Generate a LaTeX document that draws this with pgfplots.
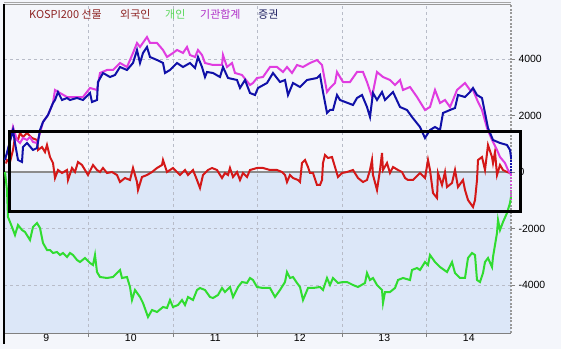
\documentclass[border=0pt]{standalone}
\usepackage{pgfplots}
\pgfplotsset{compat=1.18}
\usepackage{fontspec}
\setmainfont{Liberation Sans}
\newfontfamily\kr{Noto Sans CJK KR}
\definecolor{pagebg}{HTML}{F4F6FB}
\definecolor{lowbg}{HTML}{DCE7F8}
\definecolor{gridc}{HTML}{B8BCC8}
\definecolor{cred}{HTML}{D41818}
\definecolor{cblue}{HTML}{1010A8}
\definecolor{cmag}{HTML}{E03CE0}
\definecolor{cgreen}{HTML}{30DC30}
\definecolor{lgdred}{HTML}{8E2424}
\definecolor{lgdgreen}{HTML}{5CD85C}
\definecolor{lgdmag}{HTML}{B030C8}
\definecolor{lgdblue}{HTML}{1E2060}
\begin{document}
\begin{tikzpicture}
\useasboundingbox (0,0) rectangle (561bp,349bp);
\fill[pagebg] (0,0) rectangle (561bp,349bp);
\begin{axis}[
  at={(4bp,16bp)}, anchor=south west,
  scale only axis, width=507bp, height=329bp,
  xmin=4, xmax=511, ymin=-5699, ymax=5947,
  axis line style={draw=none},
  clip=false,
  tick align=outside,
  major tick length=4bp,
  tick style={gray, line width=1bp},
  ytick={-4000,-2000,0,2000,4000},
  ytick pos=right, yticklabel pos=right,
  yticklabel style={anchor=west, xshift=0bp},
  xtick={88.5,173,257.5,342,426.5},
  xticklabels={},
  xtick pos=bottom,
  extra x ticks={46.25,130.75,215.25,299.75,384.25,468.75},
  extra x tick labels={9,10,11,12,13,14},
  extra x tick style={major tick length=0pt, grid=none},
  xticklabel style={yshift=2bp},
  ticklabel style={font=\fontsize{10.5}{12}\selectfont},
  /pgf/number format/assume math mode=true,
  /pgf/number format/1000 sep={},
  grid=major,
  major grid style={gridc, dash pattern=on 3bp off 3bp, line width=0.6bp},
]
% lower background
\fill[lowbg] (axis cs:4,0) rectangle (axis cs:511,-5699);
\draw[gridc, dash pattern=on 3bp off 3bp, line width=0.6bp] (axis cs:88.5,-5699) -- (axis cs:88.5,5947);
\draw[gridc, dash pattern=on 3bp off 3bp, line width=0.6bp] (axis cs:173,-5699) -- (axis cs:173,5947);
\draw[gridc, dash pattern=on 3bp off 3bp, line width=0.6bp] (axis cs:257.5,-5699) -- (axis cs:257.5,5947);
\draw[gridc, dash pattern=on 3bp off 3bp, line width=0.6bp] (axis cs:342,-5699) -- (axis cs:342,5947);
\draw[gridc, dash pattern=on 3bp off 3bp, line width=0.6bp] (axis cs:426.5,-5699) -- (axis cs:426.5,5947);
\foreach \yy in {-4000,-2000,2000,4000} {
  \edef\tmp{\noexpand\draw[gridc, dash pattern=on 3bp off 3bp, line width=0.6bp] (axis cs:4,\yy) -- (axis cs:511,\yy);}\tmp
}
% zero line
\draw[gray!90, line width=1.5bp] (axis cs:4,0) -- (axis cs:511,0);
% frame
\draw[gray, line width=0.8bp] (axis cs:4,-5699) -- (axis cs:511,-5699);
\draw[gray!80, line width=0.8bp] (axis cs:4,5947) -- (axis cs:511,5947);
\draw[gray!70, line width=0.6bp] (axis cs:4,5947+60) -- (axis cs:511,5947+60);
\draw[gray!80, line width=2bp, dash pattern=on 2bp off 1.5bp] (axis cs:511,-5699) -- (axis cs:511,5947);
\draw[black, line width=1.2bp] (axis cs:4,5947) -- (axis cs:4,-6100);

% 개인 (green)
\addplot[cgreen, line width=2bp, no markers] coordinates {
(5,0)(7,-637)(8,-1593)(12,-1947)(15,-2230)(18,-1876)(22,-2053)(25,-2124)(30,-2407)(33,-1947)(37,-1805)(40,-1982)(43,-2513)(47,-2761)(50,-2761)(53,-2867)(57,-2832)(60,-2938)(63,-2867)(67,-3009)(70,-2867)(73,-2938)(77,-3115)(80,-3186)(85,-3044)(90,-3221)(93,-3292)(95,-2938)(97,-3540)(100,-3717)(107,-3752)(113,-3717)(117,-3575)(120,-3469)(122,-3752)(127,-3717)(130,-4071)(132,-4531)(135,-4177)(140,-4425)(143,-4637)(148,-5133)(152,-4885)(157,-4956)(163,-4779)(167,-4814)(170,-4531)(173,-4779)(178,-4708)(182,-4531)(185,-4708)(188,-4425)(193,-4531)(197,-4177)(200,-4106)(205,-4177)(210,-4425)(213,-4460)(218,-4354)(222,-4106)(225,-4248)(230,-4071)(233,-4425)(238,-4071)(242,-3894)(247,-3929)(250,-3752)(253,-3823)(257,-4071)(263,-4106)(270,-4106)(275,-4425)(280,-4177)(285,-3894)(287,-3540)(290,-3752)(293,-3717)(297,-3929)(300,-4071)(303,-4531)(308,-4106)(313,-4106)(320,-4071)(323,-4177)(327,-3752)(330,-4000)(333,-3752)(338,-3929)(343,-3894)(347,-3894)(353,-4000)(358,-4071)(365,-3929)(367,-3575)(370,-3823)(373,-3752)(377,-4000)(382,-4177)(383,-4637)(385,-4248)(390,-4248)(395,-4106)(398,-3823)(403,-3752)(410,-3823)(412,-3469)(417,-3398)(420,-3469)(425,-3186)(428,-3292)(430,-2938)(435,-3186)(440,-3363)(447,-3540)(452,-3186)(455,-3575)(460,-3752)(465,-3752)(468,-3044)(472,-2867)(475,-2938)(477,-3823)(480,-3894)(483,-3575)(485,-3186)(488,-3044)(492,-3363)(493,-3009)(497,-2159)(498,-1699)(500,-2053)(503,-1770)(507,-1451)(510,-1097)(511,-885)
};
% 외국인 (red)
\addplot[cred, line width=2bp, no markers] coordinates {
(6,300)(7,425)(10,354)(13,779)(15,1239)(18,1133)(20,1381)(23,1239)(27,1381)(32,1204)(37,1133)(38,779)(42,885)(45,708)(47,956)(50,531)(53,319)(55,-212)(58,71)(62,-35)(67,71)(68,-283)(72,142)(75,0)(78,354)(82,248)(85,71)(88,-106)(93,248)(97,71)(100,0)(103,142)(107,-35)(112,0)(117,-106)(120,-354)(125,-212)(130,-283)(133,142)(137,-354)(138,-637)(142,-177)(147,-106)(152,0)(157,142)(162,248)(163,425)(167,0)(170,71)(173,142)(177,0)(180,-106)(185,71)(188,-106)(193,71)(197,-283)(200,-566)(203,-106)(208,71)(212,142)(217,71)(222,-212)(225,-35)(228,-106)(230,142)(233,-177)(237,0)(240,-283)(243,-35)(247,-177)(250,71)(257,142)(263,142)(270,71)(277,71)(282,0)(285,-106)(287,-354)(290,-106)(293,-212)(298,-283)(300,-354)(302,319)(305,425)(308,177)(310,-35)(313,-35)(317,-460)(320,-460)(322,-283)(323,319)(325,602)(328,496)(332,531)(335,177)(338,-177)(342,-35)(347,0)(353,71)(358,-212)(363,-354)(367,-283)(370,71)(372,425)(373,-106)(377,-637)(380,71)(382,673)(383,71)(387,319)(390,-35)(393,177)(398,71)(402,0)(405,-212)(408,-283)(413,-283)(420,-35)(425,-212)(428,425)(430,71)(433,-743)(437,-920)(438,-35)(442,-460)(445,0)(447,-531)(452,-389)(455,71)(458,-531)(463,-283)(465,-637)(468,-991)(473,-1239)(475,-991)(477,-283)(478,425)(482,531)(485,71)(488,956)(492,531)(493,319)(495,708)(497,-106)(500,248)(503,71)(507,0)(510,-35)
};
% 기관합계 (magenta)
\addplot[cmag, line width=2bp, no markers] coordinates {
(7,600)(10,1100)(13,1593)(17,1133)(20,1027)(23,1204)(27,1133)(30,1239)(33,1062)(37,1027)(40,1381)(43,1770)(48,2018)(53,2443)(55,2903)(60,2797)(67,2655)(77,2655)(83,2655)(90,2974)(97,2903)(100,3505)(107,3611)(113,3611)(120,3859)(127,3717)(133,4213)(137,4567)(140,4425)(147,4779)(150,4567)(157,4567)(163,4319)(167,4071)(173,4213)(177,4319)(183,4213)(187,4425)(190,4142)(195,4071)(198,4319)(202,4142)(205,3859)(213,3788)(222,3788)(223,4142)(227,3717)(232,3859)(235,3505)(242,3434)(250,3080)(253,3151)(257,3328)(263,3363)(270,3717)(277,3717)(283,3540)(287,3717)(292,3505)(297,3788)(303,3717)(310,3859)(317,3965)(322,3788)(327,2832)(330,2974)(335,3151)(337,3540)(340,3363)(343,3186)(350,3186)(357,3540)(363,3540)(367,3186)(372,2655)(377,3540)(383,3363)(390,3257)(395,3080)(400,3257)(403,2903)(410,3009)(417,2655)(425,2195)(430,2301)(435,2903)(440,2443)(445,2549)(450,2301)(453,2549)(457,2903)(465,3151)(470,2903)(473,2903)(478,2478)(482,2195)(487,1558)(492,1133)(497,779)(500,531)(505,319)(508,71)(510,-35)(511,-100)
};
\addplot[cmag, line width=1.5bp, dash pattern=on 1.5bp off 1.5bp, no markers] coordinates {(511,-100)(511,-990)};
% 증권 (blue)
\addplot[cblue, line width=2bp, no markers] coordinates {
(5,425)(13,1487)(15,1027)(18,425)(22,354)(23,885)(27,1027)(33,779)(37,850)(40,1487)(43,1770)(48,2018)(53,2443)(55,2549)(58,2832)(62,2549)(67,2620)(70,2549)(77,2620)(83,2549)(90,2797)(92,2478)(97,2549)(98,3186)(103,3505)(110,3363)(115,3434)(120,3717)(127,3611)(133,3859)(137,4319)(140,3859)(143,4213)(147,4425)(150,4071)(157,3965)(163,3859)(165,3505)(170,3611)(173,3717)(177,3859)(183,3717)(190,3859)(195,3682)(198,4071)(202,3717)(205,3363)(207,3540)(213,3505)(220,3363)(223,3717)(228,3328)(237,3257)(240,2974)(245,3257)(250,2797)(255,2726)(258,2974)(267,3151)(273,3505)(280,3186)(285,3257)(288,2726)(293,3151)(300,3009)(307,3257)(317,3328)(320,3434)(323,2832)(327,2089)(330,2195)(333,2195)(337,2726)(340,2549)(353,2372)(357,2620)(362,2726)(367,2301)(370,1947)(373,2797)(377,2549)(382,2832)(385,2549)(393,2832)(400,2301)(407,2195)(412,1947)(420,1593)(425,1204)(430,1487)(435,1593)(440,1487)(443,2089)(450,2195)(455,2266)(458,2726)(465,2655)(470,2832)(473,2974)(477,2726)(482,2620)(485,2089)(488,1558)(493,1133)(500,1027)(507,956)(510,779)(511,531)
};
\addplot[cblue, line width=1.5bp, dash pattern=on 1.5bp off 1.5bp, no markers] coordinates {(511,531)(511,-50)};
% highlight rectangle
\draw[black, line width=3.5bp] (axis cs:9.5,1427) rectangle (axis cs:520.5,-1405);
\end{axis}
% legend texts
\node[anchor=west, inner sep=0pt, text=lgdred, font=\kr\fontsize{11}{13}\selectfont] at (29bp,335bp) {KOSPI200 선물};
\node[anchor=west, inner sep=0pt, text=lgdred, font=\kr\fontsize{11}{13}\selectfont] at (120bp,335bp) {외국인};
\node[anchor=west, inner sep=0pt, text=lgdgreen, font=\kr\fontsize{11}{13}\selectfont] at (165bp,335bp) {개인};
\node[anchor=west, inner sep=0pt, text=lgdmag, font=\kr\fontsize{11}{13}\selectfont] at (200bp,335bp) {기관합계};
\node[anchor=west, inner sep=0pt, text=lgdblue, font=\kr\fontsize{11}{13}\selectfont] at (258bp,335bp) {증권};
\end{tikzpicture}
\end{document}
